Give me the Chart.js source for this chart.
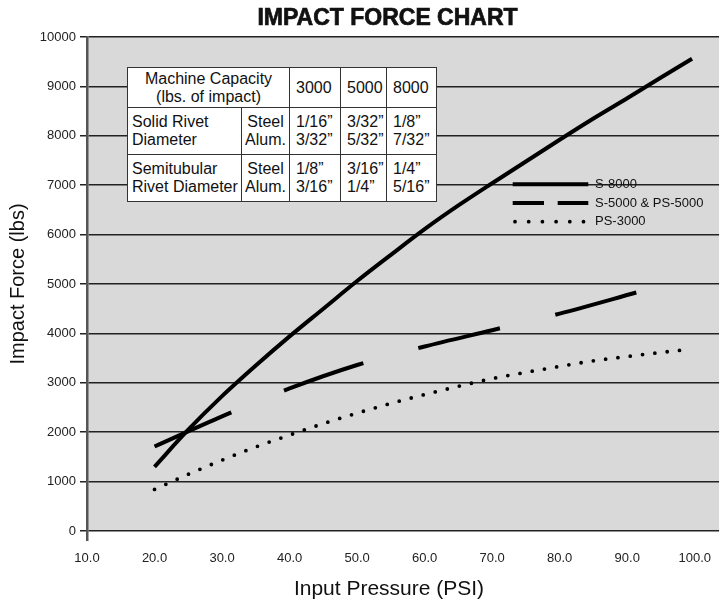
<!DOCTYPE html>
<html>
<head>
<meta charset="utf-8">
<title>Impact Force Chart</title>
<script src="https://cdn.jsdelivr.net/npm/chart.js@4.4.1/dist/chart.umd.min.js"></script>
<style>
  body { margin: 0; background: #fff; }
  #wrap { position: relative; width: 721px; height: 602px; overflow: hidden; font-family: "Liberation Sans", Arial, sans-serif; }
  #chartTitle { position: absolute; top: 3px; left: 137px; width: 501px; text-align: center; white-space: nowrap;
    font-weight: bold; font-size: 23px; line-height: 28px; color: #111; -webkit-text-stroke: 0.7px #111; }
  #xTitle { position: absolute; top: 576px; left: 189px; width: 400px; text-align: center; white-space: nowrap;
    font-size: 21px; line-height: 24px; color: #111; }
  #spec { position: absolute; left: 127px; top: 67px; width: 309px; height: 134px; table-layout: fixed;
    border-collapse: collapse; background: #fff; font-size: 16px; line-height: 18px; color: #111; }
  #spec td { border: 1.5px solid #333; padding: 0 0 0 6px; vertical-align: middle; white-space: nowrap; overflow: hidden; }
  #spec td.name { padding-left: 4px; }
  #spec td.mid { text-align: center; padding: 0; }
</style>
</head>
<body>
<div id="wrap">
  <canvas id="chart"></canvas>
  <div id="chartTitle">IMPACT FORCE CHART</div>
  <div id="xTitle">Input Pressure (PSI)</div>
  <table id="spec">
    <colgroup><col style="width:114px"><col style="width:48px"><col style="width:51px"><col style="width:46px"><col style="width:50px"></colgroup>
    <tbody></tbody>
  </table>
</div>
<script>
// axis ticks
var xTicks = [10, 20, 30, 40, 50, 60, 70, 80, 90, 100];
var yTicks = [0, 1000, 2000, 3000, 4000, 5000, 6000, 7000, 8000, 9000, 10000];

// S-8000 (solid)
var s8000Psi   = [20, 25, 30, 35, 40, 45, 50, 55, 60, 65, 70, 75, 80, 85, 90, 95, 99.6];
var s8000Force = [1300, 2050, 2730, 3350, 3940, 4500, 5060, 5590, 6110, 6590, 7040, 7480, 7920, 8350, 8760, 9180, 9560];

// S-5000 & PS-5000 (dashed)
var s5000Psi   = [20, 30, 40, 50, 60, 70, 80, 91.6];
var s5000Force = [1710, 2320, 2885, 3360, 3735, 4065, 4400, 4837];

// PS-3000 (dotted)
var ps3000Psi   = [20, 25, 30, 35, 40, 45, 50, 55, 60, 65, 70, 75, 80, 85, 90, 95, 98.3];
var ps3000Force = [842, 1148, 1435, 1702, 1943, 2174, 2386, 2583, 2761, 2929, 3085, 3212, 3331, 3445, 3532, 3615, 3663];

// rivet table
var capacities    = ['3000', '5000', '8000'];
var solidSteel    = ['1/16\u201d', '3/32\u201d', '1/8\u201d'];
var solidAlum     = ['3/32\u201d', '5/32\u201d', '7/32\u201d'];
var semiSteel     = ['1/8\u201d', '3/16\u201d', '1/4\u201d'];
var semiAlum      = ['3/16\u201d', '1/4\u201d', '5/16\u201d'];

function pairs(xs, ys) {
    return xs.map(function(x, i) { return { x: x, y: ys[i] }; });
}

// build the table
var tbody = document.querySelector('#spec tbody');
var rows = '<tr style="height:40px"><td class="mid" colspan="2">Machine Capacity<br>(lbs. of impact)</td>';
capacities.forEach(function(c) { rows += '<td>' + c + '</td>'; });
rows += '</tr><tr style="height:47px"><td class="name">Solid Rivet<br>Diameter</td><td class="mid">Steel<br>Alum.</td>';
solidSteel.forEach(function(s, i) { rows += '<td>' + s + '<br>' + solidAlum[i] + '</td>'; });
rows += '</tr><tr style="height:47px"><td class="name">Semitubular<br>Rivet Diameter</td><td class="mid">Steel<br>Alum.</td>';
semiSteel.forEach(function(s, i) { rows += '<td>' + s + '<br>' + semiAlum[i] + '</td>'; });
rows += '</tr>';
tbody.innerHTML = rows;

// grey plot background
var plotBg = {
    id: 'plotBg',
    beforeDraw: function(chart) {
        var a = chart.chartArea, ctx = chart.ctx;
        ctx.save();
        ctx.fillStyle = '#d9d9d9';
        ctx.fillRect(a.left, a.top, a.right - a.left, a.bottom - a.top);
        ctx.restore();
    }
};

// legend drawn inside the plot
var lineKey = {
    id: 'lineKey',
    afterDatasetsDraw: function(chart, args, opts) {
        var ctx = chart.ctx;
        ctx.save();
        chart.data.datasets.forEach(function(ds, i) {
            var y = opts.top + i * opts.rowGap;
            ctx.beginPath();
            ctx.lineWidth = ds.borderWidth;
            ctx.strokeStyle = ds.borderColor;
            ctx.lineCap = ds.borderCapStyle || 'butt';
            ctx.setLineDash(ds.keyDash || []);
            ctx.moveTo(opts.left + (ds.keyInset || 0), y);
            ctx.lineTo(opts.left + opts.sample, y);
            ctx.stroke();
            ctx.setLineDash([]);
            ctx.fillStyle = '#111';
            ctx.font = opts.font;
            ctx.textBaseline = 'middle';
            ctx.fillText(ds.label, opts.left + opts.sample + opts.gap, y);
        });
        ctx.restore();
    }
};

Chart.defaults.font.family = '"Liberation Sans", Arial, sans-serif';

var ctx = document.getElementById('chart').getContext('2d');
new Chart(ctx, {
    type: 'line',
    data: {
        datasets: [{
            label: 'S-8000',
            data: pairs(s8000Psi, s8000Force),
            borderColor: '#000',
            borderWidth: 4,
            pointRadius: 0,
            cubicInterpolationMode: 'monotone'
        }, {
            label: 'S-5000 & PS-5000',
            data: pairs(s5000Psi, s5000Force),
            borderColor: '#000',
            borderWidth: 4,
            borderDash: [84, 57],
            keyDash: [31.3, 13.7],
            pointRadius: 0,
            cubicInterpolationMode: 'monotone'
        }, {
            label: 'PS-3000',
            data: pairs(ps3000Psi, ps3000Force),
            borderColor: '#000',
            borderWidth: 3.8,
            borderDash: [0, 12.4],
            borderCapStyle: 'round',
            keyDash: [0, 13.7],
            keyInset: 2.3,
            pointRadius: 0,
            cubicInterpolationMode: 'monotone'
        }]
    },
    options: {
        responsive: true,
        maintainAspectRatio: false,
        animation: false,
        layout: { padding: { top: 37, left: 0, right: 0, bottom: 0 } },
        plugins: {
            legend: { display: false },
            tooltip: { enabled: false },
            lineKey: { left: 512.7, top: 184.3, rowGap: 18.7, sample: 75.6, gap: 6.7, font: '13px "Liberation Sans", Arial, sans-serif' }
        },
        scales: {
            x: {
                type: 'linear',
                min: 10,
                max: 103.6,
                afterBuildTicks: function(s) { s.ticks = xTicks.map(function(v) { return { value: v }; }); },
                afterFit: function(s) { s.height = 71; },
                ticks: {
                    callback: function(v) { return v.toFixed(1); },
                    font: { size: 13 },
                    color: '#222',
                    padding: 10,
                    maxRotation: 0,
                    autoSkip: false
                },
                grid: {
                    drawOnChartArea: false,
                    tickLength: 10,
                    lineWidth: 2.5,
                    color: function(c) { return c.index === 0 ? '#555' : 'rgba(0,0,0,0)'; }
                },
                border: { display: false }
            },
            y: {
                min: 0,
                max: 10000,
                afterBuildTicks: function(s) { s.ticks = yTicks.map(function(v) { return { value: v }; }); },
                afterFit: function(s) { s.width = 87; },
                ticks: {
                    callback: function(v) { return String(v); },
                    font: { size: 13 },
                    color: '#222',
                    padding: 4
                },
                grid: { color: '#222', lineWidth: 1.5, tickLength: 7 },
                border: { color: '#555', width: 2.5 },
                title: { display: true, text: 'Impact Force (lbs)', font: { size: 20 }, color: '#111', padding: { top: 6, bottom: 0 } }
            }
        }
    },
    plugins: [plotBg, lineKey]
});
</script>
</body>
</html>
